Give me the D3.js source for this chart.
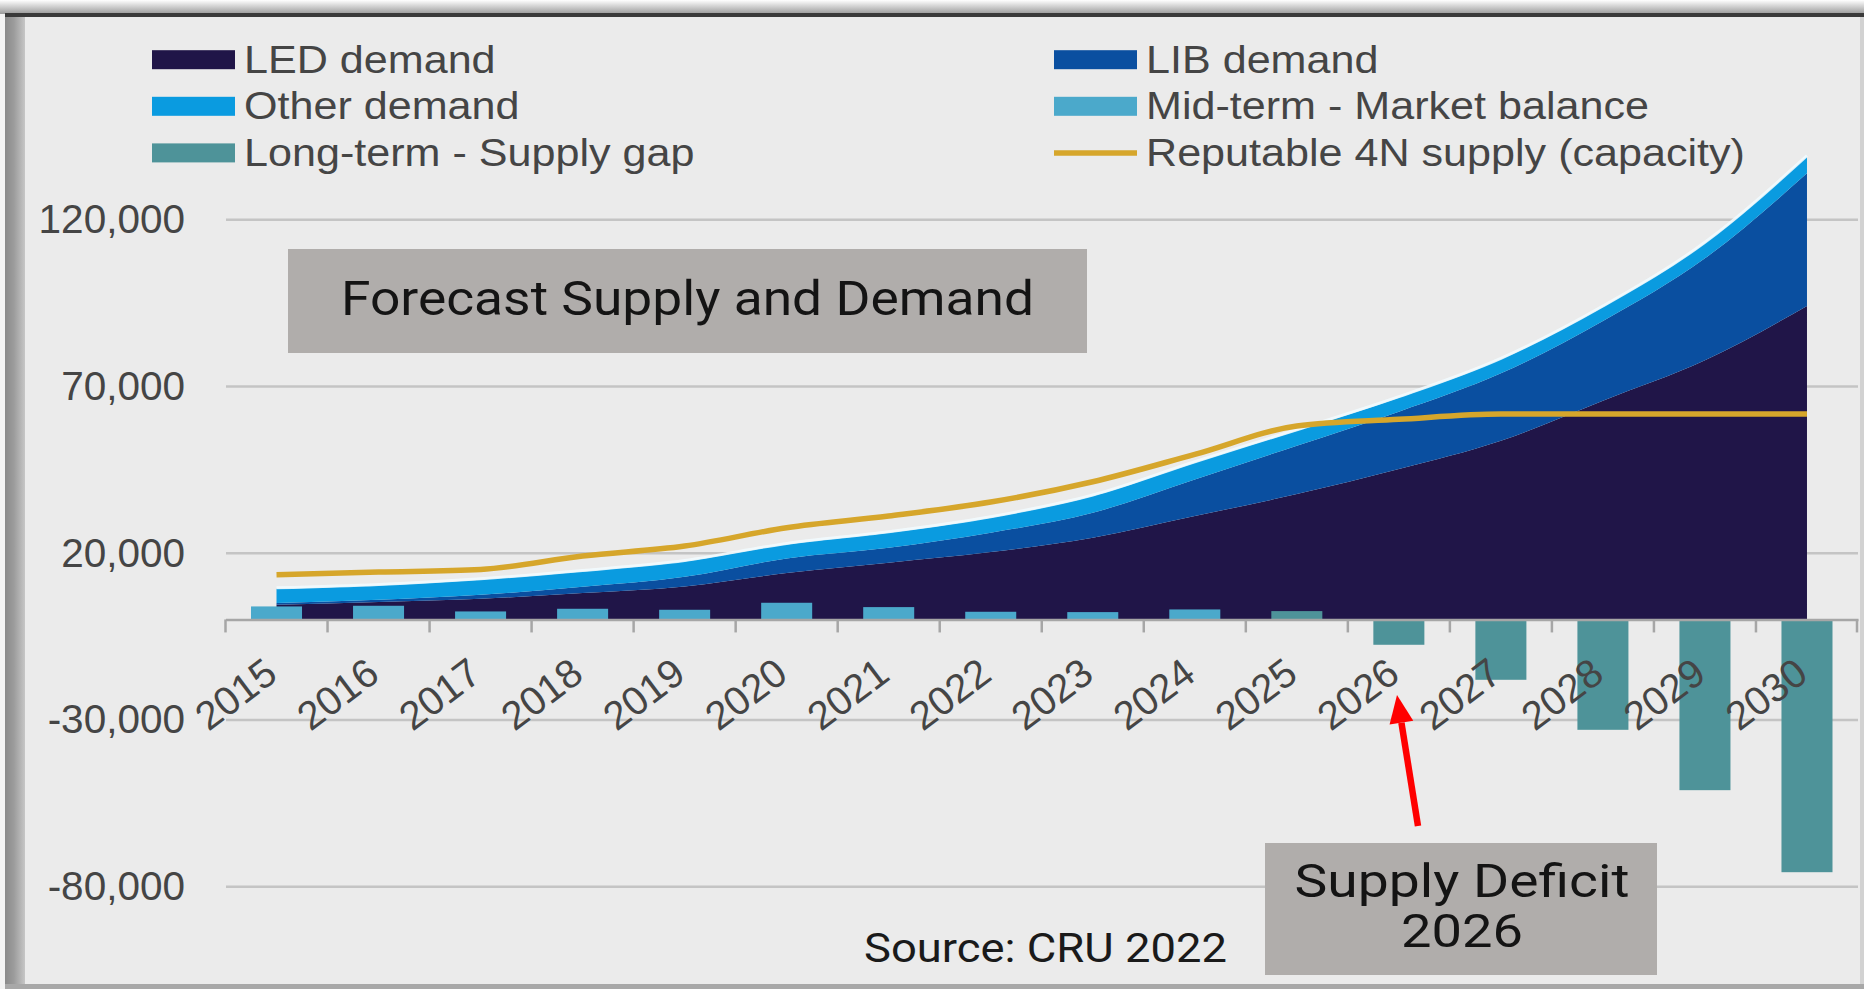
<!DOCTYPE html>
<html>
<head>
<meta charset="utf-8">
<script src="https://cdn.jsdelivr.net/npm/d3@7"></script>
<style>
  html, body { margin: 0; padding: 0; background: #ffffff; overflow: hidden; }
  svg { display: block; }
</style>
</head>
<body>
<svg id="chart" width="1864" height="989"></svg>
<script>
// ---------------- DATA ----------------
const categories = ["2015","2016","2017","2018","2019","2020","2021","2022",
                    "2023","2024","2025","2026","2027","2028","2029","2030"];
const ledDemand   = [4400, 5200, 6200, 7900, 9900, 13900, 17000, 20200,
                     24500, 31000, 37600, 45100, 53600, 65600, 77700, 94000];
const libDemand   = [500, 700, 1200, 1900, 2900, 4400, 4500, 5800,
                     7500, 11000, 14500, 17200, 20200, 23900, 30600, 39800];
const otherDemand = [4300, 4300, 4500, 4600, 4600, 4200, 4500, 4500,
                     5000, 5000, 4500, 4200, 4200, 4200, 4500, 5000];
const midTermBalance = [3900, 4100, 2400, 3200, 2900, 5000, 3700, 2300,
                        2200, 3000, null, null, null, null, null, null];
const longTermGap    = [null, null, null, null, null, null, null, null,
                        null, null, 2500, -7600, -18100, -33100, -51200, -75800];
const supplyCapacity = [13400, 14200, 15000, 19000, 22000, 27500, 31000, 35200,
                        41300, 49500, 58000, 60000, 61600, 61600, 61600, 61600];
const yTicks = [-80000, -30000, 20000, 70000, 120000];
const legendNames = ["LED demand", "LIB demand", "Other demand",
                     "Mid-term - Market balance", "Long-term - Supply gap",
                     "Reputable 4N supply (capacity)"];

// ---------------- STYLE ----------------
const C = {
  led: "#201548", lib: "#0a4fa0", other: "#0a9be0",
  mid: "#4ba9cb", long: "#4e9399", supply: "#d6a62b",
  grid: "#c4c4c4", text: "#454545", panel: "#ebebeb", box: "#b0adab"
};
const FONT = "'Liberation Sans', Arial, sans-serif";
const NOTE_FONT = "Roboto, 'Noto Sans', sans-serif";
const curve = d3.curveMonotoneX;

const svg = d3.select("#chart");
const defs = svg.append("defs");
const gTop = defs.append("linearGradient").attr("id", "topShade")
  .attr("x1", 0).attr("y1", 0).attr("x2", 0).attr("y2", 1);
gTop.append("stop").attr("offset", "0%").attr("stop-color", "#ffffff");
gTop.append("stop").attr("offset", "100%").attr("stop-color", "#9a9a9a");
const gLeft = defs.append("linearGradient").attr("id", "leftShade")
  .attr("x1", 0).attr("y1", 0).attr("x2", 1).attr("y2", 0);
gLeft.append("stop").attr("offset", "0%").attr("stop-color", "#8a8a8a");
gLeft.append("stop").attr("offset", "45%").attr("stop-color", "#9c9c9c");
gLeft.append("stop").attr("offset", "100%").attr("stop-color", "#c6c6c6");

// ---------------- FRAME ----------------
svg.append("rect").attr("width", 1864).attr("height", 989).attr("fill", "#f3f3f3");
svg.append("rect").attr("x", 0).attr("y", 0).attr("width", 1864).attr("height", 14).attr("fill", "url(#topShade)");
svg.append("rect").attr("x", 5).attr("y", 13).attr("width", 1859).attr("height", 4).attr("fill", "#3a3a3a");
svg.append("rect").attr("x", 5).attr("y", 17).attr("width", 20).attr("height", 972).attr("fill", "url(#leftShade)");
svg.append("rect").attr("x", 25).attr("y", 17).attr("width", 1835).attr("height", 967).attr("fill", C.panel);
svg.append("rect").attr("x", 5).attr("y", 984).attr("width", 1859).attr("height", 5).attr("fill", "#a8a8a8");
svg.append("rect").attr("x", 1860).attr("y", 17).attr("width", 4).attr("height", 967).attr("fill", "#d2d2d2");

// ---------------- SCALES ----------------
const x = d3.scaleBand().domain(categories).range([225.5, 1858]);
const bw = x.bandwidth();
const cx = c => x(c) + bw / 2;
const y = d3.scaleLinear().domain([-80000, 120000]).range([886.2, 219.3]);

// ---------------- GRID + Y AXIS ----------------
const fmt = v => d3.format(",")(v).replace("\u2212", "-");
const yAxis = d3.axisLeft(y).tickValues(yTicks).tickSize(-(1858 - 226))
  .tickPadding(41).tickFormat(fmt);
const gy = svg.append("g").attr("transform", "translate(226,0)").call(yAxis);
gy.select(".domain").remove();
gy.selectAll(".tick line").attr("stroke", C.grid).attr("stroke-width", 2.5);
gy.selectAll(".tick text").attr("fill", C.text).attr("font-family", FONT)
  .attr("font-size", 40.5).attr("dy", "0.33em");

// ---------------- STACKED AREAS ----------------
const table = categories.map((c, i) => ({
  year: c, led: ledDemand[i], lib: libDemand[i], other: otherDemand[i]
}));
const stack = d3.stack().keys(["led", "lib", "other"]);
const series = stack(table);
const area = d3.area().curve(curve).x(d => cx(d.data.year)).y0(d => y(d[0])).y1(d => y(d[1]));
svg.append("g").selectAll("path").data(series).join("path")
  .attr("d", area).attr("fill", d => C[d.key]);
// soft highlight along the top of the stack
const topLine = d3.line().curve(curve).x(d => cx(d.data.year)).y(d => y(d[1]) - 1);
svg.append("path").datum(series[2]).attr("d", topLine)
  .attr("fill", "none").attr("stroke", "#f2fbff").attr("stroke-width", 3).attr("opacity", 0.85);

// ---------------- BARS ----------------
const barTable = categories.map((c, i) => ({ year: c, mid: midTermBalance[i], long: longTermGap[i] }));
function drawBars(key) {
  svg.append("g").selectAll("rect").data(barTable.filter(d => d[key] !== null)).join("rect")
    .attr("x", d => x(d.year) + bw * 0.25)
    .attr("width", bw * 0.5)
    .attr("y", d => y(Math.max(0, d[key])))
    .attr("height", d => Math.abs(y(d[key]) - y(0)))
    .attr("fill", C[key]);
}
drawBars("mid");
drawBars("long");

// ---------------- X AXIS ----------------
const xAxis = d3.axisBottom(x).tickSizeInner(0).tickSizeOuter(0).tickPadding(0);
const gx = svg.append("g").attr("transform", `translate(0,${y(0)})`).call(xAxis);
gx.select(".domain").attr("stroke", "#a6a6a6").attr("stroke-width", 2.5);
gx.selectAll(".tick text")
  .attr("y", null).attr("dy", null)
  .attr("text-anchor", "end")
  .attr("transform", "translate(3,59) rotate(-37)")
  .attr("fill", C.text).attr("font-family", FONT).attr("font-size", 40);
const boundaries = categories.map(c => x(c)).concat([x.range()[1] - 1]);
gx.append("g").selectAll("line").data(boundaries).join("line")
  .attr("x1", d => d).attr("x2", d => d).attr("y1", 0).attr("y2", 13)
  .attr("stroke", "#a6a6a6").attr("stroke-width", 2.5);

// ---------------- SUPPLY LINE ----------------
const supplyLine = d3.line().curve(curve).x((d, i) => cx(categories[i])).y(d => y(d));
svg.append("path").datum(supplyCapacity).attr("d", supplyLine)
  .attr("fill", "none").attr("stroke", C.supply).attr("stroke-width", 5.5)
  .attr("stroke-linejoin", "round");

// ---------------- LEGEND ----------------
const legendColors = [C.led, C.lib, C.other, C.mid, C.long, C.supply];
const lg = svg.append("g");
legendNames.forEach((name, i) => {
  const col = i % 2, row = Math.floor(i / 2);
  const sx = col === 0 ? 152 : 1054;
  const cy = 59.7 + row * 46.6;
  if (i === 5) {
    lg.append("line").attr("x1", sx).attr("x2", sx + 83).attr("y1", cy).attr("y2", cy)
      .attr("stroke", legendColors[i]).attr("stroke-width", 5.5);
  } else {
    lg.append("rect").attr("x", sx).attr("y", cy - 9.5).attr("width", 83).attr("height", 19)
      .attr("fill", legendColors[i]);
  }
  lg.append("text").attr("transform", `translate(${sx + 92},${cy + 12.8}) scale(1.12,1)`)
    .attr("font-family", FONT).attr("font-size", 38.5).attr("fill", C.text).text(name);
});

// ---------------- ANNOTATIONS ----------------
const notes = svg.append("g");
notes.append("rect").attr("x", 288).attr("y", 249).attr("width", 799).attr("height", 104).attr("fill", C.box);
notes.append("text").attr("x", 341).attr("y", 315).attr("font-family", NOTE_FONT).attr("font-size", 49)
  .attr("fill", "#141414").attr("textLength", 693).attr("lengthAdjust", "spacingAndGlyphs")
  .text("Forecast Supply and Demand");

notes.append("rect").attr("x", 1265).attr("y", 843).attr("width", 392).attr("height", 132).attr("fill", C.box);
notes.append("text").attr("x", 1462).attr("y", 897).attr("text-anchor", "middle")
  .attr("font-family", NOTE_FONT).attr("font-size", 46).attr("fill", "#141414")
  .attr("textLength", 335).attr("lengthAdjust", "spacingAndGlyphs").text("Supply Deficit");
notes.append("text").attr("x", 1462).attr("y", 947).attr("text-anchor", "middle")
  .attr("font-family", NOTE_FONT).attr("font-size", 46).attr("fill", "#141414")
  .attr("textLength", 122).attr("lengthAdjust", "spacingAndGlyphs").text("2026");

notes.append("text").attr("x", 864).attr("y", 962)
  .attr("font-family", NOTE_FONT).attr("font-size", 41).attr("fill", "#1a1a1a")
  .attr("textLength", 363).attr("lengthAdjust", "spacingAndGlyphs").text("Source: CRU 2022");

// red arrow
const tail = [1418, 826], tip = [1397, 695];
const ang = Math.atan2(tip[1] - tail[1], tip[0] - tail[0]);
const headLen = 28, headHalf = 12;
const base = [tip[0] - headLen * Math.cos(ang), tip[1] - headLen * Math.sin(ang)];
notes.append("line").attr("x1", tail[0]).attr("y1", tail[1]).attr("x2", base[0]).attr("y2", base[1])
  .attr("stroke", "#ff0000").attr("stroke-width", 6.5);
const px = -Math.sin(ang), py = Math.cos(ang);
notes.append("polygon").attr("fill", "#ff0000").attr("points", [
  tip,
  [base[0] + headHalf * px, base[1] + headHalf * py],
  [base[0] - headHalf * px, base[1] - headHalf * py]
].map(p => p.join(",")).join(" "));
</script>
</body>
</html>
